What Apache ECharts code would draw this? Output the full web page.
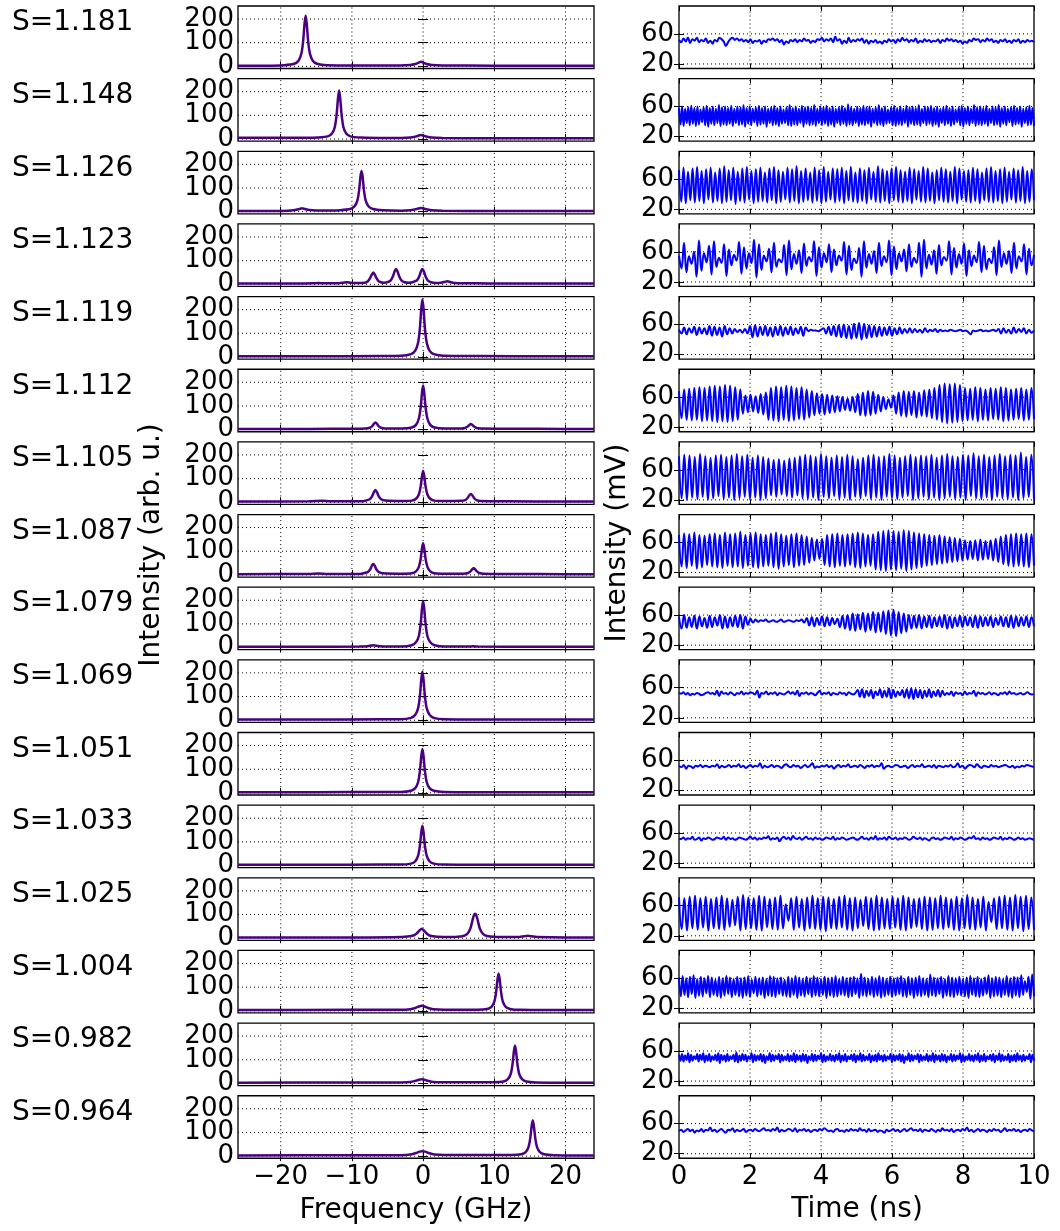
<!DOCTYPE html>
<html>
<head>
<meta charset="utf-8">
<script src="https://cdn.jsdelivr.net/npm/echarts@6/dist/echarts.min.js"></script>
<style>
  html, body { margin: 0; padding: 0; background: #fff; }
  #main { width: 1060px; height: 1231px; }
</style>
</head>
<body>
<div id="main"></div>
<script>
var sLabels = ['1.181', '1.148', '1.126', '1.123', '1.119', '1.112', '1.105', '1.087',
               '1.079', '1.069', '1.051', '1.033', '1.025', '1.004', '0.982', '0.964'];

var freqTicks = [-20, -10, 0, 10, 20];
var specTicks = [0, 100, 200];
var timeGrid = [2, 4, 6, 8];
var mvTicks = [20, 60];
var freqRange = [-26, 24];
var specRange = [-9, 255];
var timeRange = [0, 10];
var mvRange = [14, 97];

// spectra: [frequency GHz, intensity arb. u.]
var sp1 = [[-26,3],[-22,3],[-19.5,5],[-18.1,11],[-17.5,24],[-17.1,54],[-16.85,107],[-16.65,182],[-16.5,214],[-16.35,182],[-16.15,107],[-15.9,54],[-15.5,24],[-14.9,11],[-13.5,5],[-8,4],[-3.3,4],[-1.8,6],[-1.1,10],[-0.7,15],[-0.3,19],[0.1,15],[0.5,10],[1.2,6],[2.7,4],[10,3],[18,3],[24,3]];
var sp2 = [[-26,5],[-20,5],[-16,5],[-14.8,6],[-13.4,11],[-12.8,23],[-12.4,51],[-12.15,103],[-11.95,174],[-11.8,205],[-11.65,174],[-11.45,103],[-11.2,51],[-10.8,23],[-10.2,11],[-8.8,6],[-5,4],[-3,4],[-1.8,6],[-1.1,10],[-0.7,14],[-0.3,17],[0.1,14],[0.5,10],[1.2,6],[2.7,4],[10,3],[18,3],[24,3]];
var sp3 = [[-26,3],[-21,3],[-19,4],[-18,7],[-17.4,11],[-17,14],[-16.6,11],[-16,7],[-15,5],[-13,5],[-11.65,6],[-10.25,11],[-9.65,22],[-9.25,46],[-9,88],[-8.8,148],[-8.65,172],[-8.5,148],[-8.3,88],[-8.05,46],[-7.65,22],[-7.05,11],[-5.65,6],[-3,4],[-1.8,6],[-1.1,10],[-0.7,13],[-0.3,15],[0.1,13],[0.5,10],[1.2,6],[2.7,4],[10,3],[18,3],[24,3]];
var sp4 = [[-26,3],[-18,3],[-15.5,4],[-14.7,6],[-13.9,4],[-11.8,5],[-11.2,7],[-10.7,9],[-10.2,7],[-9.4,6],[-8.2,7],[-7.75,13],[-7.45,26],[-7.2,42],[-7,50],[-6.8,42],[-6.55,26],[-6.25,13],[-5.8,8],[-5.4,7],[-5,9],[-4.55,17],[-4.25,33],[-4,55],[-3.8,65],[-3.6,55],[-3.35,33],[-3.05,17],[-2.6,9],[-2,7],[-1.5,9],[-0.85,17],[-0.55,33],[-0.3,55],[-0.1,65],[0.1,55],[0.35,33],[0.65,17],[1.1,9],[1.8,6],[2.5,7],[3,10],[3.4,13],[3.8,10],[4.4,6],[5.5,4],[6.6,5],[7.6,4],[10,3],[18,3],[24,3]];
var sp5 = [[-26,3],[-15,3],[-6,4],[-3.1,5],[-1.7,12],[-1.1,27],[-0.7,61],[-0.45,122],[-0.25,207],[-0.1,243],[0.05,207],[0.25,122],[0.5,61],[0.9,27],[1.5,12],[2.9,5],[8,4],[18,3],[24,3]];
var sp6 = [[-26,3],[-16,3],[-10,4],[-8.1,5],[-7.5,8],[-7.15,15],[-6.9,25],[-6.7,30],[-6.5,25],[-6.25,15],[-5.9,8],[-5.3,5],[-3,5],[-1.6,9],[-1,20],[-0.6,47],[-0.35,93],[-0.15,158],[0,186],[0.15,158],[0.35,93],[0.6,47],[1,20],[1.6,9],[3,5],[5.3,5],[5.9,7],[6.25,13],[6.5,20],[6.7,24],[6.9,20],[7.15,13],[7.5,7],[8.1,5],[12,4],[20,3],[24,3]];
var sp7 = [[-26,3],[-16,4],[-14.2,6],[-13,4],[-8.5,4],[-8.1,7],[-7.5,13],[-7.15,26],[-6.9,44],[-6.7,52],[-6.5,44],[-6.25,26],[-5.9,13],[-5.3,7],[-3,5],[-1.6,7],[-1,15],[-0.6,33],[-0.35,66],[-0.15,112],[0,132],[0.15,112],[0.35,66],[0.6,33],[1,15],[1.6,7],[3,5],[5.3,6],[5.9,9],[6.25,18],[6.5,30],[6.7,35],[6.9,30],[7.15,18],[7.5,9],[8.1,5],[12,4],[20,3],[24,3]];
var sp8 = [[-26,3],[-16,4],[-14.7,6],[-13.5,4],[-8.8,4],[-8.4,7],[-7.8,12],[-7.45,23],[-7.2,39],[-7,46],[-6.8,39],[-6.55,23],[-6.2,12],[-5.6,7],[-3,5],[-1.6,7],[-1,15],[-0.6,34],[-0.35,67],[-0.15,114],[0,134],[0.15,114],[0.35,67],[0.6,34],[1,15],[1.6,7],[3,5],[5.6,5],[6.3,8],[6.65,15],[6.9,24],[7.1,28],[7.3,24],[7.55,15],[7.9,8],[8.5,5],[12,4],[20,3],[24,3]];
var sp9 = [[-26,3],[-16,3],[-9,4],[-7.8,6],[-7,10],[-6.2,6],[-3,4],[-1.6,10],[-1,22],[-0.6,49],[-0.35,99],[-0.15,167],[0,197],[0.15,167],[0.35,99],[0.6,49],[1,22],[1.6,10],[3,4],[6.3,4],[7,6],[7.7,4],[16,3],[24,3]];
var sp10 = [[-26,3],[-16,3],[-6,4],[-3.1,4],[-1.7,10],[-1.1,23],[-0.7,51],[-0.45,103],[-0.25,174],[-0.1,205],[0.05,174],[0.25,103],[0.5,51],[0.9,23],[1.5,10],[2.9,4],[10,3],[24,3]];
var sp11 = [[-26,3],[-15,3],[-6,4],[-3.1,4],[-1.7,9],[-1.1,20],[-0.7,46],[-0.45,93],[-0.25,157],[-0.1,185],[0.05,157],[0.25,93],[0.5,46],[0.9,20],[1.5,9],[2.9,4],[10,3],[24,3]];
var sp12 = [[-26,3],[-15,3],[-6,4],[-3.1,4],[-1.7,8],[-1.1,18],[-0.7,42],[-0.45,84],[-0.25,143],[-0.1,168],[0.05,143],[0.25,84],[0.5,42],[0.9,18],[1.5,8],[2.9,4],[10,3],[24,3]];
var sp13 = [[-26,3],[-10,3],[-3,5],[-1.5,10],[-0.9,20],[-0.5,33],[-0.2,40],[0.1,33],[0.5,20],[1,10],[2,6],[4,5],[5.5,8],[6.2,18],[6.65,42],[6.95,78],[7.15,98],[7.3,103],[7.45,98],[7.65,78],[7.95,42],[8.4,18],[9.1,8],[11,5],[13.5,5],[14.2,8],[14.7,10],[15.2,8],[16,5],[20,3],[24,3]];
var sp14 = [[-26,3],[-10,4],[-3,4],[-1.8,7],[-1.1,12],[-0.6,18],[-0.2,21],[0.2,18],[0.7,12],[1.4,7],[3,5],[7.6,5],[9,8],[9.6,17],[10,39],[10.25,78],[10.45,134],[10.6,158],[10.75,134],[10.95,78],[11.2,39],[11.6,17],[12.2,8],[13.6,4],[20,3],[24,3]];
var sp15 = [[-26,3],[-10,4],[-3,4],[-1.8,6],[-1.1,11],[-0.6,16],[-0.2,18],[0.2,16],[0.7,11],[1.4,6],[3,5],[9.9,5],[11.3,8],[11.9,18],[12.3,40],[12.55,80],[12.75,136],[12.9,160],[13.05,136],[13.25,80],[13.5,40],[13.9,18],[14.5,8],[15.9,4],[20,3],[24,3]];
var sp16 = [[-26,3],[-10,4],[-3,4],[-1.8,7],[-1,13],[-0.5,19],[-0.1,21],[0.3,19],[0.8,13],[1.6,7],[3,5],[12.4,5],[13.8,8],[14.4,17],[14.8,38],[15.05,76],[15.25,129],[15.4,152],[15.55,129],[15.75,76],[16,38],[16.4,17],[17,8],[18.4,4],[24,3]];

// time traces (mV), evenly spaced over 0..10 ns
var ts1 = [52,49,54,50,55,48,53,51,55,49,52,50,54,48,51,47,52,50,55,53,50,44,49,53,55,52,54,51,53,50,52,49,53,48,51,50,52,47,51,49,53,52,54,51,53,49,52,46,50,48,52,50,53,49,52,50,54,51,52,48,51,49,53,52,55,50,53,51,54,49,56,51,53,47,51,48,55,49,52,50,53,51,54,48,52,47,51,49,52,48,50,47,51,49,53,50,52,48,53,50,55,51,53,49,52,50,54,48,51,49,53,50,52,49,51,50,53,48,52,50,54,51,53,50,52,49,51,47,50,48,52,50,54,52,53,49,52,50,54,51,53,49,51,48,52,50,53,49,51,48,52,50,53,48,51,49,52,50,51,49];
var ts2 = [58,36,60,34,57,38,59,35,61,37,58,34,60,36,56,39,59,35,61,33,58,37,60,35,57,38,62,34,59,36,60,35,58,37,61,34,57,38,60,35,59,36,62,33,58,37,60,35,57,39,59,34,61,36,58,37,60,33,57,38,59,35,61,36,58,34,60,37,56,38,59,35,62,34,58,36,60,35,57,38,61,33,59,37,60,35,58,36,62,34,57,38,60,35,59,37,61,34,58,36,60,33,57,38,59,35,61,37,58,34,63,36,59,35,57,38,60,34,58,36,61,35,59,37,60,33,57,38,59,35,62,36,58,34,60,37,56,38,59,35,61,34,58,36,60,35,57,38,61,33,59,37,60,35,58,36,62,34,57,38,60,35,59,37,61,34,58,36,60,33,57,38,59,35,61,37,58,34,60,36,56,39,59,35,61,33,58,37,60,35,57,38,62,34,59,36,60,35,58,37,61,34,57,38,60,35,59,36,62,33,58,37,60,35,57,39,59,34,61,36,58,37,60,33,57,38,59,35,61,36,58,34];
var ts3 = [72,30,75,28,70,32,74,29,76,31,71,28,73,33,75,29,69,31,74,28,77,30,72,32,75,27,70,31,74,29,76,33,71,28,73,30,75,31,69,29,74,32,76,28,72,30,70,33,75,29,73,31,77,28,71,30,74,32,69,29,75,31,72,28,76,30,70,33,74,29,73,31,75,28,71,32,76,30,69,29,74,31,72,28,75,33,70,30,77,29,73,31,71,28,74,32,76,30,72,29,70,31,75,28,73,33,71,30,76,29,74,31,69,28,72,32,75,30,73,29,70,31,76,28,74,33,71,30,72,29,75,31,73,28,69,32,74,30,76,29,71,31,73,28,75,30,70,33,74,29,72,31,76,28,71,30,73,32];
var ts4 = [55,38,72,33,54,44,60,27,75,35,58,46,68,30,74,40,52,45,70,28,63,42,56,48,73,31,66,38,58,45,76,26,70,36,55,47,64,33,72,40,50,46,69,29,75,37,57,44,62,32,71,41,53,47,74,28,66,39,58,46,70,33,63,42,55,48,73,30,68,36,51,45,65,27,74,39,57,44,61,32,72,41,54,46,75,29,67,37,58,47,63,34,70,40,52,45,72,27,76,38,56,43,62,31,69,42,53,48,74,30,65,39,57,44,71,28,62,41,55,46,73,33,68,37,51,45,66,29,75,40,58,44,61,32,72,38,54,47,70,30,64,42,56];
var ts5 = [53,48,56,47,55,49,57,46,56,48,55,47,58,45,57,46,56,44,58,47,55,48,54,50,53,49,54,48,58,43,59,44,57,46,58,45,56,44,57,46,58,45,56,47,57,46,55,48,57,45,56,51,53,52,52,51,53,55,48,57,46,58,44,59,43,60,42,58,41,61,42,62,40,61,42,59,43,58,44,57,45,56,46,57,45,55,47,56,48,54,49,55,49,54,50,53,49,55,50,53,51,54,50,53,51,52,51,53,52,51,52,53,51,52,50,47,52,51,52,53,51,52,51,52,53,51,54,48,55,49,53,48,56,49,54,50,55,48,53,49,52];
var ts6 = [68,32,70,30,71,29,72,30,73,28,72,29,74,28,75,27,74,28,76,27,75,28,73,30,70,38,62,40,63,41,61,39,64,37,66,30,72,29,74,28,73,30,75,28,74,29,72,31,73,30,70,33,68,36,65,38,64,37,63,39,62,40,61,41,60,43,58,42,60,40,64,36,66,35,68,36,67,38,63,41,60,44,57,46,62,38,66,35,68,34,67,36,68,33,66,35,69,34,70,32,72,30,76,27,78,25,77,26,78,27,76,28,72,29,71,30,73,28,72,30,70,29,72,31,71,30,73,28,72,29,70,30,71,31,72,29,70,30,72,31];
var ts7 = [78,22,80,20,79,23,77,21,81,24,78,20,76,22,79,25,80,21,77,23,79,20,81,22,78,24,80,21,76,23,79,20,77,22,75,26,73,24,74,27,72,25,75,23,76,26,78,22,80,21,79,23,77,20,81,24,78,22,76,25,79,21,77,23,80,20,78,24,74,22,76,25,79,21,80,23,77,20,78,24,81,22,79,21,76,23,78,25,80,20,77,22,79,24,78,21,80,23,76,20,79,22,81,24,78,21,77,23,80,20,79,25,82,22,78,21,80,23,77,20,79,24,81,22,78,21,80,23,79,20,83,22,77,24,80,21];
var ts8 = [70,28,72,26,71,29,73,25,70,27,69,30,71,28,72,27,70,26,73,29,71,27,72,28,74,26,70,29,72,27,73,26,71,28,70,29,72,27,73,25,71,28,69,30,71,27,72,29,70,30,68,33,66,36,64,38,65,30,70,28,71,27,72,29,70,28,71,30,72,27,73,26,72,28,70,29,71,24,74,23,75,22,76,24,75,23,74,25,76,22,75,24,73,26,72,27,71,29,70,30,69,31,70,32,68,33,67,34,66,35,65,36,63,37,62,38,63,36,64,37,62,38,63,36,65,34,68,31,70,29,71,28,72,29,71,28,72,27,71,29];
var ts9 = [58,42,60,43,57,44,59,42,58,45,56,43,59,44,57,46,60,42,58,43,57,45,59,44,60,42,58,47,55,50,54,51,53,52,54,51,52,53,51,52,54,51,52,53,52,51,53,52,54,50,56,46,57,45,56,47,58,45,57,46,56,48,55,44,59,42,60,40,62,39,61,41,63,38,62,40,64,37,63,38,65,35,66,33,67,32,64,36,62,38,60,42,59,43,60,42,58,44,59,43,57,45,58,44,60,42,58,43,57,45,59,44,58,46,57,44,59,43,58,45,57,46,58,44,56,47,58,45,57,44,59,43,58,45,57,46,58,44,57,45];
var ts10 = [53,52,54,51,53,50,52,51,53,52,50,51,53,54,52,53,51,56,49,55,52,53,51,54,52,50,53,52,55,51,53,52,54,53,51,56,47,53,52,55,51,53,52,54,50,53,52,51,53,55,52,54,51,56,49,53,52,54,51,53,52,50,53,56,51,53,52,54,50,53,52,51,54,52,53,50,54,52,51,53,57,48,58,47,56,49,57,46,55,50,58,47,56,48,59,46,57,48,55,50,57,47,58,46,59,45,58,47,57,46,56,48,58,47,55,49,57,48,56,50,53,51,55,49,54,52,53,50,55,51,53,52,56,49,54,52,53,51,52,54,51,53,52,50,53,52,54,51,55,52,53,51,52,53,51,52,54,52,51,52];
var ts11 = [53,51,54,49,53,52,50,53,52,54,51,53,52,51,53,52,55,50,53,51,52,54,51,53,52,55,51,53,50,52,54,51,53,52,56,50,53,51,52,54,51,53,52,50,53,55,52,51,54,52,53,50,52,54,51,53,56,50,52,51,53,52,54,51,53,49,52,54,51,53,52,55,51,52,53,51,54,52,50,53,52,54,51,53,52,56,49,52,53,51,52,54,53,51,52,53,50,52,54,51,53,52,55,51,52,53,51,54,50,53,52,51,53,52,54,51,52,56,51,53,49,52,54,53,51,55,52,50,53,52,51,54,52,53,51,52,53,54,52,51,53,50,52,51,53,52,54,53,52,51];
var ts12 = [53,52,54,51,53,52,55,51,52,54,50,53,52,54,53,51,52,54,53,52,55,51,54,52,53,51,52,54,53,52,51,53,55,52,54,51,53,52,54,53,56,51,53,52,54,49,53,55,52,54,51,56,53,52,54,51,53,55,52,53,51,54,52,53,51,52,54,53,52,55,51,53,52,54,53,51,52,53,54,52,51,53,55,52,53,51,54,52,56,51,53,52,54,51,55,53,52,54,51,53,52,54,53,51,52,55,53,52,54,51,53,52,50,53,54,52,53,51,52,54,53,52,55,51,53,52,54,53,51,52,54,53,56,52,53,51,54,52,53,51,52,54,53,52,55,51,53,52,54,53,51,52,54,52,53,51,52,53,52,51];
var ts13 = [71,29,70,27,72,30,73,28,70,31,72,27,69,30,71,29,73,28,70,32,68,34,72,27,74,29,71,30,70,28,73,27,72,31,69,29,71,28,73,30,62,40,70,28,72,31,69,27,71,30,73,29,70,28,72,26,71,30,69,29,72,31,73,28,70,27,71,30,68,33,72,29,70,27,73,28,71,30,69,29,72,31,70,28,73,27,71,30,69,32,70,29,72,27,71,28,70,30,73,29,71,31,69,28,72,27,70,30,74,29,71,28,69,31,72,27,65,38,70,29,72,30,73,28,71,27,74,30,72,26,73,29,71,28];
var ts14 = [61,36,63,38,60,35,62,39,64,34,59,37,62,36,60,40,63,35,61,38,58,36,62,34,60,37,63,39,61,35,59,38,62,36,60,34,61,37,63,35,58,40,62,36,60,38,61,34,59,37,63,36,62,35,60,39,61,37,58,36,62,35,60,38,63,34,61,37,59,36,62,39,60,35,63,37,61,36,59,38,62,34,60,37,61,35,63,36,59,38,62,37,60,35,61,36,62,39,60,34,66,37,61,36,59,38,62,35,60,37,63,34,61,36,59,38,62,35,60,37,61,39,63,36,59,35,62,38,60,34,61,37,63,36,60,38,59,35,65,37,61,36,60,39,62,34,59,37,63,36,61,35,60,38,62,37,59,36,61,34,63,38,60,36,62,35,59,37,61,39,64,34,60,36,62,37,61,35,59,38,63,36,60,34,62,37,61,35,64,38,56,42,62,33,65,36];
var ts15 = [55,47,56,46,54,48,57,45,55,47,53,49,56,46,55,48,57,45,54,47,56,46,53,48,55,47,57,44,55,48,54,46,56,47,53,49,55,46,58,45,54,47,56,48,55,46,53,49,57,45,55,47,54,48,56,46,55,44,53,48,57,46,55,47,54,49,56,45,55,47,53,48,56,46,54,47,57,45,55,48,54,46,56,47,55,44,53,48,56,46,55,47,54,49,57,45,55,46,53,48,56,47,54,46,55,48,57,45,54,47,56,46,53,49,55,47,56,45,54,48,57,46,55,47,53,48,56,45,54,47,55,46,57,48,54,46,55,47,53,49,56,45,55,47,54,48,56,46,55,44,53,48,57,46,55,47,54,49,56,45,55,47,53,48,56,46,54,47,57,45,55,48,54,46,56,47,55,45,53,48,56,46,55,47,54,49,57,45,55,46,53,48,56,47,54,46,55,48,57,45,54,47,56,46,53,49,55,47,56,45,54,48,57,46,55,47,53,48,56,45,54,47,55,46,57,48,54,46,55,47,53,49,56,45,55,47];
var ts16 = [50,52,49,51,53,50,52,48,51,50,53,49,52,51,55,50,52,49,51,53,50,48,52,51,54,49,52,50,51,53,49,51,52,50,53,51,50,52,54,51,52,50,53,51,55,49,52,50,51,53,52,50,54,49,52,51,53,50,52,49,51,52,50,53,51,54,52,50,51,49,52,53,50,51,49,52,50,53,51,52,50,54,51,52,49,53,50,51,52,49,51,50,48,52,50,51,53,50,52,49,51,53,50,52,54,51,52,50,53,49,52,51,50,53,51,49,52,50,54,51,52,50,53,49,51,52,50,53,51,55,50,52,49,51,53,50,52,51,49,52,50,53,51,52,49,51,54,50,52,51,53,50,52,49,51,52,50,53,51,50];

var spectra = [sp1, sp2, sp3, sp4, sp5, sp6, sp7, sp8, sp9, sp10, sp11, sp12, sp13, sp14, sp15, sp16];
var traces = [ts1, ts2, ts3, ts4, ts5, ts6, ts7, ts8, ts9, ts10, ts11, ts12, ts13, ts14, ts15, ts16];

var FONT = 'DejaVu Sans';
var nRows = sLabels.length;

function rowTop(i) { return 6 + i * 72.65; }
function minus(v) { return String(v).replace('-', '\u2212'); }

// label lists padded with two hidden end values, so echarts' min/max label
// check drops those instead of the tightly packed real labels
function padded(ticks, range) {
    return [range[0] + 0.5].concat(ticks, [range[1] - 0.5]);
}

var mChart = echarts.init(document.getElementById('main'), null, { renderer: 'canvas' });

var grids = [], xAxes = [], yAxes = [], series = [], texts = [];
var gridStyle = { show: true, borderColor: '#000', borderWidth: 1.3, backgroundColor: 'transparent', outerBoundsMode: 'none' };
var dotted = { type: [1, 3], color: '#000', width: 1 };
var tickStyle = { color: '#000', width: 1 };

// dotted grid lines drawn as plain two-point series on the panel's own axes
function gridLines(axisIdx, xVals, yVals, xr, yr) {
    var out = [];
    xVals.forEach(function(v) {
        out.push({ type: 'line', xAxisIndex: axisIdx, yAxisIndex: axisIdx, data: [[v, yr[0]], [v, yr[1]]],
                   showSymbol: false, silent: true, z: 1, lineStyle: dotted, emphasis: { disabled: true } });
    });
    yVals.forEach(function(v) {
        out.push({ type: 'line', xAxisIndex: axisIdx, yAxisIndex: axisIdx, data: [[xr[0], v], [xr[1], v]],
                   showSymbol: false, silent: true, z: 1, lineStyle: dotted, emphasis: { disabled: true } });
    });
    return out;
}

for (var i = 0; i < nRows; i++) {
    var last = (i === nRows - 1);
    var gl = 2 * i, gr = 2 * i + 1;
    grids.push(Object.assign({ left: 238, top: rowTop(i), width: 356, height: 62.5 }, gridStyle));
    grids.push(Object.assign({ left: 679, top: rowTop(i), width: 355, height: 62.5 }, gridStyle));

    // spectrum axes
    xAxes.push({
        type: 'value', gridIndex: gl, min: freqRange[0], max: freqRange[1], position: 'bottom',
        axisLine: { show: false }, splitLine: { show: false },
        axisTick: { inside: true, length: 5, customValues: freqTicks, lineStyle: tickStyle },
        axisLabel: { show: last, customValues: padded(freqTicks, freqRange), formatter: minus, margin: 6,
                     showMinLabel: false, showMaxLabel: false, hideOverlap: false,
                     fontFamily: FONT, fontSize: 26, color: '#000' }
    });
    xAxes.push({
        type: 'value', gridIndex: gl, min: freqRange[0], max: freqRange[1], position: 'top',
        axisLine: { show: false }, splitLine: { show: false }, axisLabel: { show: false },
        axisTick: { inside: true, length: 5, customValues: freqTicks, lineStyle: tickStyle }
    });
    yAxes.push({
        type: 'value', gridIndex: gl, min: specRange[0], max: specRange[1], position: 'left',
        axisLine: { show: false }, splitLine: { show: false },
        axisTick: { inside: true, length: 5, customValues: specTicks, lineStyle: tickStyle },
        axisLabel: { customValues: padded(specTicks, specRange), margin: 4,
                     showMinLabel: false, showMaxLabel: false, hideOverlap: false,
                     fontFamily: FONT, fontSize: 26, color: '#000' }
    });
    yAxes.push({
        type: 'value', gridIndex: gl, min: specRange[0], max: specRange[1], position: 'right',
        axisLine: { show: false }, splitLine: { show: false }, axisLabel: { show: false },
        axisTick: { inside: true, length: 5, customValues: specTicks, lineStyle: tickStyle }
    });

    // time trace axes
    xAxes.push({
        type: 'value', gridIndex: gr, min: timeRange[0], max: timeRange[1], interval: 2, position: 'bottom',
        axisLine: { show: false }, splitLine: { show: false },
        axisTick: { inside: true, length: 5, lineStyle: tickStyle },
        axisLabel: { show: last, margin: 6, showMinLabel: true, showMaxLabel: true, hideOverlap: false,
                     fontFamily: FONT, fontSize: 26, color: '#000' }
    });
    xAxes.push({
        type: 'value', gridIndex: gr, min: timeRange[0], max: timeRange[1], interval: 2, position: 'top',
        axisLine: { show: false }, splitLine: { show: false }, axisLabel: { show: false },
        axisTick: { inside: true, length: 5, lineStyle: tickStyle }
    });
    yAxes.push({
        type: 'value', gridIndex: gr, min: mvRange[0], max: mvRange[1], position: 'left',
        axisLine: { show: false }, splitLine: { show: false },
        axisTick: { inside: true, length: 5, customValues: mvTicks, lineStyle: tickStyle },
        axisLabel: { customValues: padded(mvTicks, mvRange), margin: 5,
                     showMinLabel: false, showMaxLabel: false, hideOverlap: false,
                     fontFamily: FONT, fontSize: 26, color: '#000' }
    });
    yAxes.push({
        type: 'value', gridIndex: gr, min: mvRange[0], max: mvRange[1], position: 'right',
        axisLine: { show: false }, splitLine: { show: false }, axisLabel: { show: false },
        axisTick: { inside: true, length: 5, customValues: mvTicks, lineStyle: tickStyle }
    });

    series = series.concat(gridLines(4 * i, freqTicks, specTicks, freqRange, specRange));
    series = series.concat(gridLines(4 * i + 2, timeGrid, mvTicks, timeRange, mvRange));

    series.push({
        type: 'line', xAxisIndex: 4 * i, yAxisIndex: 4 * i, z: 3,
        data: spectra[i], showSymbol: false, smooth: 0.25,
        lineStyle: { color: '#4b0082', width: 2.5 }
    });
    var ts = traces[i];
    series.push({
        type: 'line', xAxisIndex: 4 * i + 2, yAxisIndex: 4 * i + 2, z: 3,
        data: ts.map(function(v, k) { return [k * 10 / (ts.length - 1), v]; }),
        showSymbol: false, smooth: 0.45,
        lineStyle: { color: '#0000ff', width: 2 }
    });

    texts.push({
        type: 'text', x: 12, y: rowTop(i) + 17,
        style: { text: 'S=' + sLabels[i], fontFamily: FONT, fontSize: 28, fill: '#000',
                 align: 'left', verticalAlign: 'middle' }
    });
}

texts.push({ type: 'text', x: 152, y: 545, rotation: Math.PI / 2,
    style: { text: 'Intensity (arb. u.)', fontFamily: FONT, fontSize: 28, fill: '#000', align: 'center', verticalAlign: 'middle' } });
texts.push({ type: 'text', x: 618, y: 543, rotation: Math.PI / 2,
    style: { text: 'Intensity (mV)', fontFamily: FONT, fontSize: 28, fill: '#000', align: 'center', verticalAlign: 'middle' } });
texts.push({ type: 'text', x: 416, y: 1211,
    style: { text: 'Frequency (GHz)', fontFamily: FONT, fontSize: 28, fill: '#000', align: 'center', verticalAlign: 'middle' } });
texts.push({ type: 'text', x: 857, y: 1210,
    style: { text: 'Time (ns)', fontFamily: FONT, fontSize: 28, fill: '#000', align: 'center', verticalAlign: 'middle' } });

mChart.setOption({
    backgroundColor: '#fff',
    animation: false,
    grid: grids,
    xAxis: xAxes,
    yAxis: yAxes,
    series: series,
    graphic: texts
});
</script>
</body>
</html>
